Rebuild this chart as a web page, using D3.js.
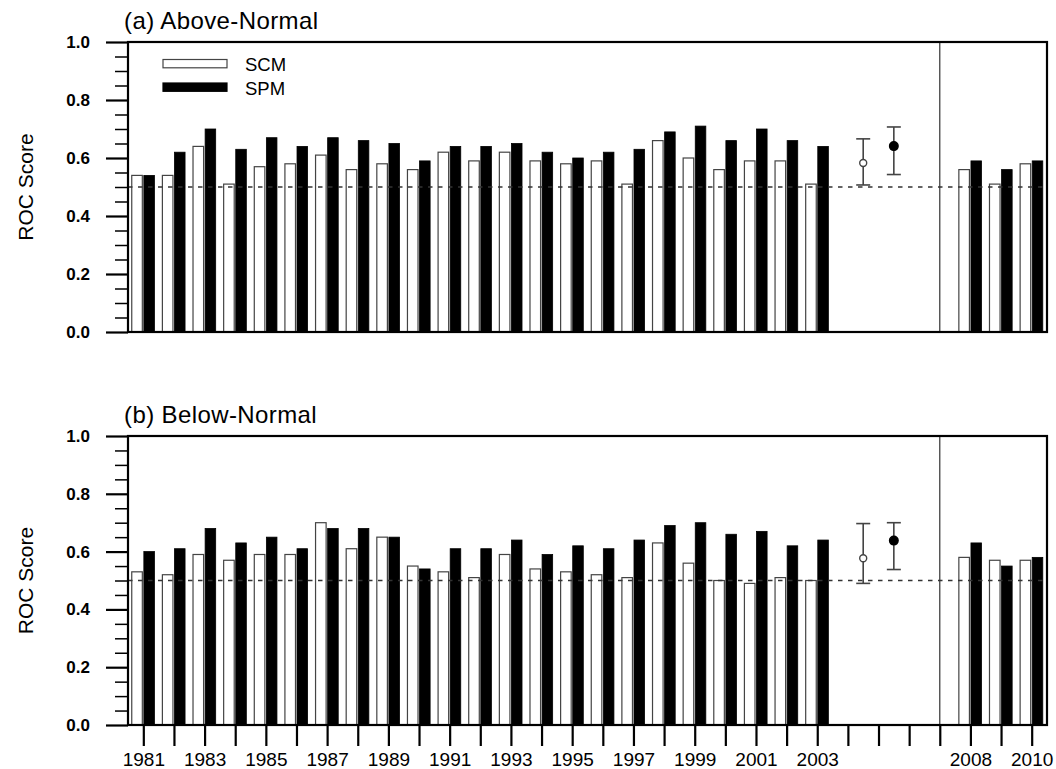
<!DOCTYPE html>
<html><head><meta charset="utf-8">
<script src="https://cdn.jsdelivr.net/npm/d3@7"></script>
<style>
body{margin:0;background:#fff}
text{font-family:"Liberation Sans",Arial,Helvetica,sans-serif;fill:#000}
</style>
</head><body>
<svg id="chart" width="1056" height="769"></svg>
<script>
// ---- data ----
const years = [1981,1982,1983,1984,1985,1986,1987,1988,1989,1990,1991,1992,1993,1994,1995,1996,1997,1998,1999,2000,2001,2002,2003,2008,2009,2010];
const scmAbove = [0.54,0.54,0.64,0.51,0.57,0.58,0.61,0.56,0.58,0.56,0.62,0.59,0.62,0.59,0.58,0.59,0.51,0.66,0.60,0.56,0.59,0.59,0.51,0.56,0.51,0.58];
const spmAbove = [0.54,0.62,0.70,0.63,0.67,0.64,0.67,0.66,0.65,0.59,0.64,0.64,0.65,0.62,0.60,0.62,0.63,0.69,0.71,0.66,0.70,0.66,0.64,0.59,0.56,0.59];
const scmBelow = [0.53,0.52,0.59,0.57,0.59,0.59,0.70,0.61,0.65,0.55,0.53,0.51,0.59,0.54,0.53,0.52,0.51,0.63,0.56,0.50,0.49,0.51,0.50,0.58,0.57,0.57];
const spmBelow = [0.60,0.61,0.68,0.63,0.65,0.61,0.68,0.68,0.65,0.54,0.61,0.61,0.64,0.59,0.62,0.61,0.64,0.69,0.70,0.66,0.67,0.62,0.64,0.63,0.55,0.58];
// error bars: position (year units), mean, low, high
const errPos = [2004.5, 2005.5];
const errAboveMean = [0.583, 0.641];
const errAboveLow  = [0.507, 0.543];
const errAboveHigh = [0.666, 0.707];
const errBelowMean = [0.577, 0.638];
const errBelowLow  = [0.490, 0.538];
const errBelowHigh = [0.697, 0.700];
const separatorYear = 2007;
const tickYears = [1981,1982,1983,1984,1985,1986,1987,1988,1989,1990,1991,1992,1993,1994,1995,1996,1997,1998,1999,2000,2001,2002,2003,2004,2005,2006,2007,2008,2009,2010];
const labelYears = [1981,1983,1985,1987,1989,1991,1993,1995,1997,1999,2001,2003,2008,2010];
const yTicks = [0.0,0.2,0.4,0.6,0.8,1.0];
const yMinorTicks = [0.05,0.1,0.15,0.25,0.3,0.35,0.45,0.5,0.55,0.65,0.7,0.75,0.85,0.9,0.95];
const seriesNames = ["SCM","SPM"];
const refLine = 0.5;

// ---- layout ----
const svg = d3.select("#chart");
const x = d3.scaleLinear().domain([1980.5, 2010.5]).range([128, 1047]);
const barW = 0.345, offW = -0.205, offB = 0.19;
const font = '"Liberation Sans",Arial,Helvetica,sans-serif';

function panel(cfg){
  const y = d3.scaleLinear().domain([0,1]).range([cfg.bottom, cfg.top]);
  const g = svg.append("g");

  const rows = years.map((yr,i)=>({yr, w:cfg.scm[i], b:cfg.spm[i]}));
  g.selectAll("rect.scm").data(rows).join("rect")
    .attr("x", d=>x(d.yr+offW-barW/2)).attr("width", x(barW)-x(0))
    .attr("y", d=>y(d.w)).attr("height", d=>y(0)-y(d.w))
    .attr("fill","#fff").attr("stroke","#444").attr("stroke-width",1.2);
  g.selectAll("rect.spm").data(rows).join("rect")
    .attr("x", d=>x(d.yr+offB-barW/2)).attr("width", x(barW)-x(0))
    .attr("y", d=>y(d.b)).attr("height", d=>y(0)-y(d.b))
    .attr("fill","#000").attr("stroke","#000").attr("stroke-width",0.8);

  g.append("line").attr("x1",x.range()[0]).attr("x2",x.range()[1])
    .attr("y1",y(refLine)).attr("y2",y(refLine))
    .attr("stroke","#333").attr("stroke-width",1.6).attr("stroke-dasharray","4.5,5.5");

  g.append("line").attr("x1",x(separatorYear)).attr("x2",x(separatorYear))
    .attr("y1",y(1)).attr("y2",y(0)).attr("stroke","#333").attr("stroke-width",1.2);

  const errs = errPos.map((p,i)=>({p, m:cfg.em[i], lo:cfg.el[i], hi:cfg.eh[i], filled:i===1}));
  const eg = g.selectAll("g.err").data(errs).join("g");
  eg.append("line").attr("x1",d=>x(d.p)).attr("x2",d=>x(d.p)).attr("y1",d=>y(d.lo)).attr("y2",d=>y(d.hi))
    .attr("stroke","#444").attr("stroke-width",1.6);
  eg.append("line").attr("x1",d=>x(d.p)-7).attr("x2",d=>x(d.p)+7).attr("y1",d=>y(d.lo)).attr("y2",d=>y(d.lo))
    .attr("stroke","#444").attr("stroke-width",1.6);
  eg.append("line").attr("x1",d=>x(d.p)-7).attr("x2",d=>x(d.p)+7).attr("y1",d=>y(d.hi)).attr("y2",d=>y(d.hi))
    .attr("stroke","#444").attr("stroke-width",1.6);
  eg.append("circle").attr("cx",d=>x(d.p)).attr("cy",d=>y(d.m)).attr("r",d=>d.filled?4.3:3.5)
    .attr("fill",d=>d.filled?"#000":"#fff").attr("stroke",d=>d.filled?"#000":"#444").attr("stroke-width",1.4);

  g.append("rect").attr("x",x.range()[0]).attr("y",y(1)).attr("width",x.range()[1]-x.range()[0])
    .attr("height",y(0)-y(1)).attr("fill","none").attr("stroke","#000").attr("stroke-width",2.2);

  const ya = g.append("g").attr("transform",`translate(${x.range()[0]},0)`)
    .call(d3.axisLeft(y).tickValues(yTicks).tickSize(22).tickPadding(16).tickFormat(d3.format(".1f")));
  ya.select(".domain").remove();
  ya.selectAll(".tick line").attr("stroke","#000").attr("stroke-width",2.2);
  ya.selectAll(".tick text").attr("font-family",font).attr("font-size",17).attr("font-weight","bold");
  const ym = g.append("g").attr("transform",`translate(${x.range()[0]},0)`)
    .call(d3.axisLeft(y).tickValues(yMinorTicks).tickSize(13).tickFormat(""));
  ym.select(".domain").remove();
  ym.selectAll(".tick line").attr("stroke","#000").attr("stroke-width",1.5);

  g.append("text").attr("transform",`translate(33,${(y(0)+y(1))/2}) rotate(-90)`)
    .attr("text-anchor","middle").attr("font-size",21).text("ROC Score");

  g.append("text").attr("x",124).attr("y",cfg.titleY).attr("font-size",24)
    .attr("letter-spacing","0.4px").text(cfg.title);

  if(cfg.xAxis){
    const xa = g.append("g").attr("transform",`translate(0,${y(0)})`)
      .call(d3.axisBottom(x).tickValues(tickYears).tickSize(21).tickPadding(7)
        .tickFormat(d=>labelYears.includes(d)?String(d):""));
    xa.select(".domain").remove();
    xa.selectAll(".tick line").attr("stroke","#000").attr("stroke-width",2.2);
    xa.selectAll(".tick text").attr("font-family",font).attr("font-size",19);
  }

  if(cfg.legend){
    const lg = g.append("g");
    const items = [{n:seriesNames[0], fill:"#fff", stroke:"#444", yy:59.5},{n:seriesNames[1], fill:"#000", stroke:"#000", yy:83}];
    lg.selectAll("rect").data(items).join("rect").attr("x",163).attr("y",d=>d.yy).attr("width",64).attr("height",8.3)
      .attr("fill",d=>d.fill).attr("stroke",d=>d.stroke).attr("stroke-width",1.2);
    lg.selectAll("text").data(items).join("text").attr("x",245).attr("y",d=>d.yy+11.5)
      .attr("font-size",18.5).text(d=>d.n);
  }
}

panel({top:42, bottom:332, scm:scmAbove, spm:spmAbove, em:errAboveMean, el:errAboveLow, eh:errAboveHigh,
  title:"(a) Above-Normal", titleY:29, legend:true, xAxis:false});
panel({top:436, bottom:725, scm:scmBelow, spm:spmBelow, em:errBelowMean, el:errBelowLow, eh:errBelowHigh,
  title:"(b) Below-Normal", titleY:423, legend:false, xAxis:true});
</script>
</body></html>
